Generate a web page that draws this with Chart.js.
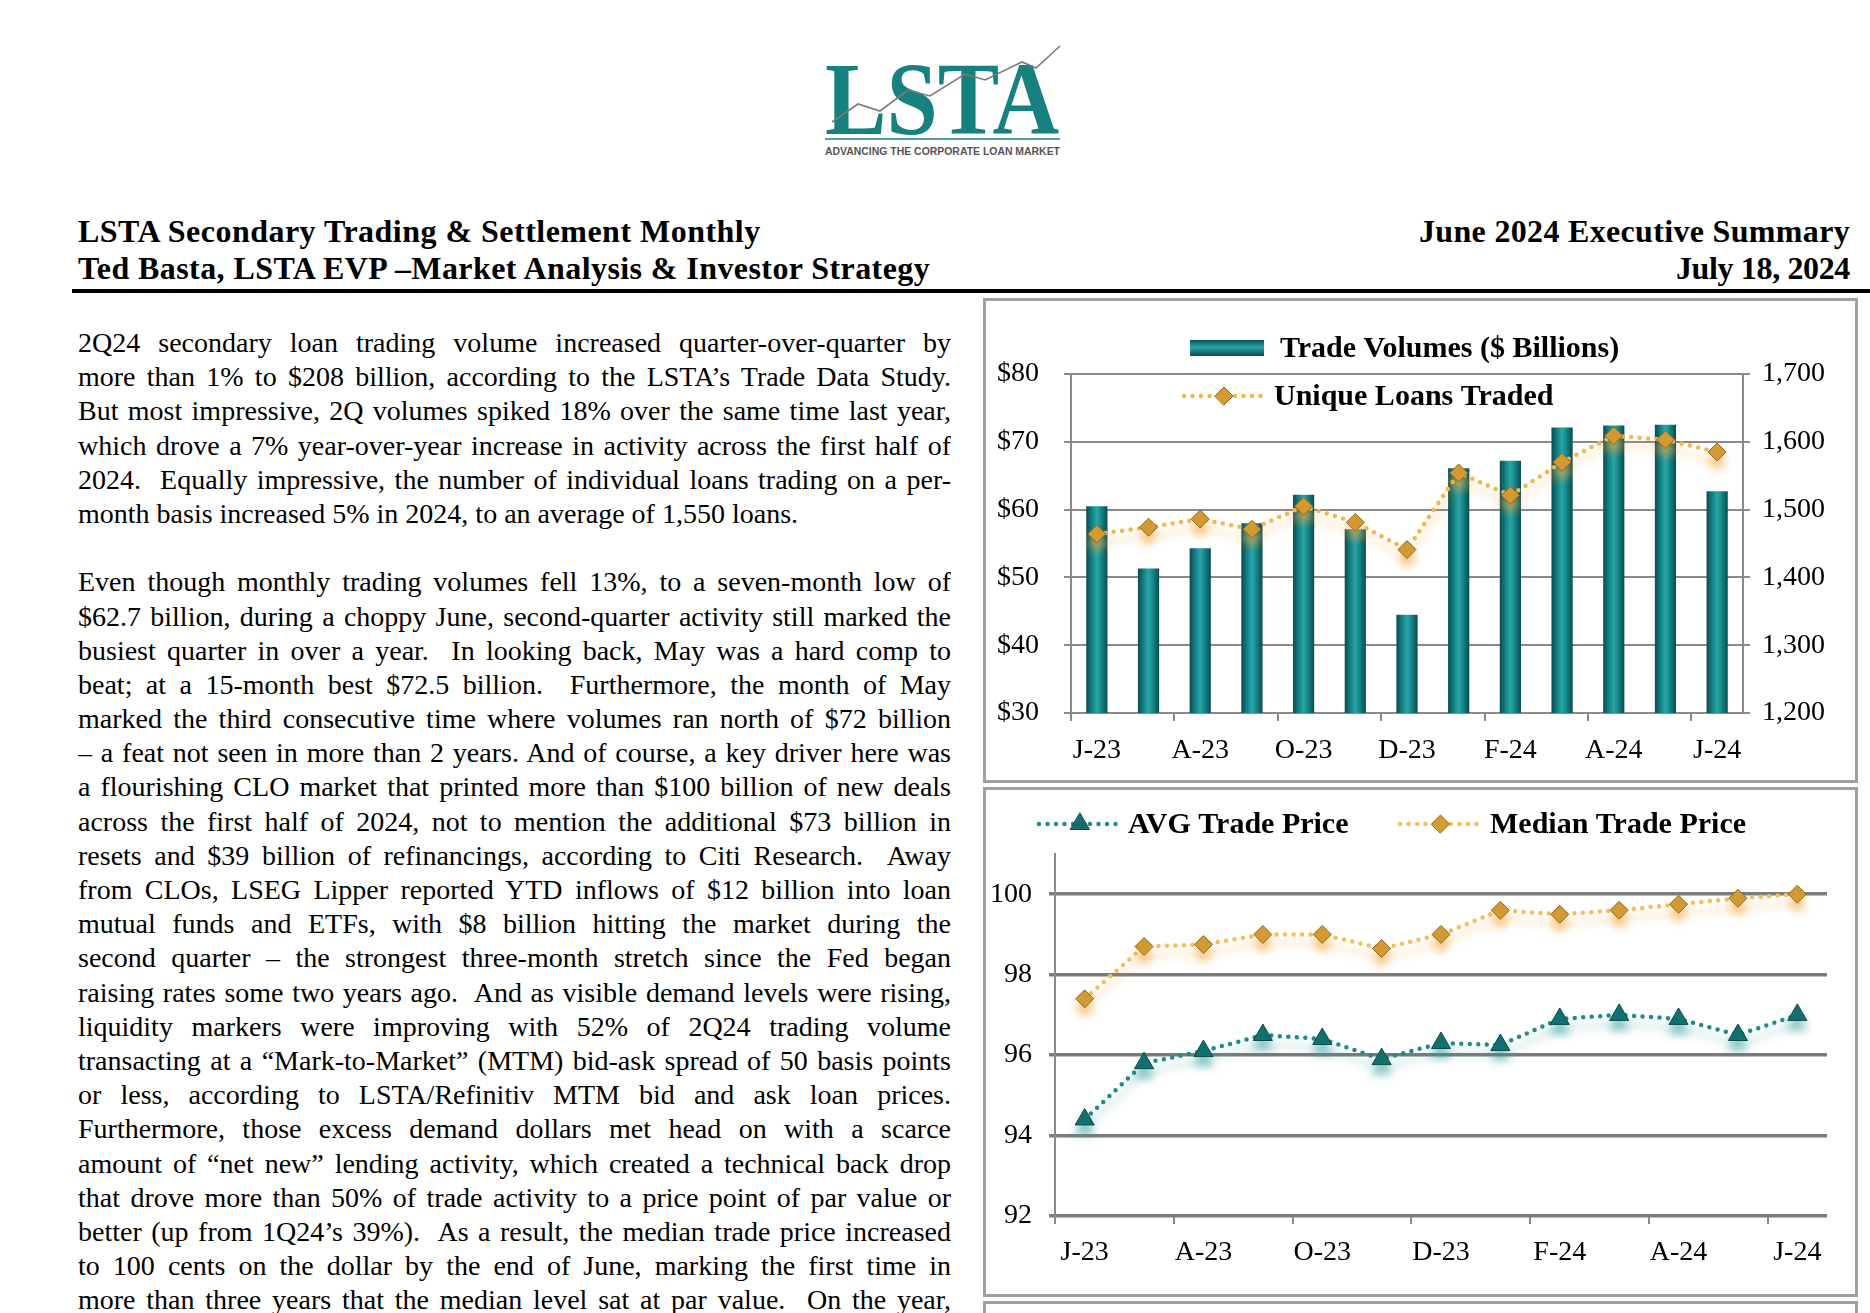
<!DOCTYPE html>
<html>
<head>
<meta charset="utf-8">
<title>LSTA Secondary Trading & Settlement Monthly</title>
<script src="https://cdn.jsdelivr.net/npm/chart.js@4.4.1/dist/chart.umd.min.js"></script>
<style>
html, body { margin: 0; padding: 0; background: #fff; }
body { width: 1870px; height: 1313px; position: relative; overflow: hidden;
       font-family: "Liberation Serif", "Times New Roman", serif; color: #000; }
.abs { position: absolute; }
.hdr { font-weight: bold; font-size: 32px; line-height: 36px; white-space: nowrap; }
.hdr.right { text-align: right; }
#copy { position: absolute; left: 78px; top: 326px; width: 873px; font-size: 28px; }
#copy .ln { height: 34.2px; line-height: 34.2px; text-align: justify; text-align-last: justify; overflow: hidden; }
#copy .ln.end { text-align-last: left; }
#copy .gap { height: 34.2px; }
.frame { position: absolute; box-sizing: border-box; border: 3px solid #a0a0a0; background: #fff; }
canvas { position: absolute; }
</style>
</head>
<body>

<!-- logo -->
<svg class="abs" style="left:0;top:0" width="1870" height="170">
  <text x="825" y="134" textLength="234" lengthAdjust="spacingAndGlyphs"
        font-family="Liberation Serif" font-weight="bold" font-size="104" fill="#17817f">LSTA</text>
  <polyline points="832,122 858,104 880,111 908,90 930,96 965,74 985,80 1022,62 1036,68 1060,46"
            fill="none" stroke="#7a7a7a" stroke-width="1.6"/>
  <line x1="825" y1="139" x2="1060" y2="139" stroke="#17817f" stroke-width="1.5"/>
  <text x="825" y="155" textLength="235" lengthAdjust="spacingAndGlyphs"
        font-family="Liberation Sans" font-weight="bold" font-size="10" fill="#555">ADVANCING THE CORPORATE LOAN MARKET</text>
</svg>

<!-- header -->
<div class="abs hdr" id="h1l" style="left:78px;top:213px;">LSTA Secondary Trading &amp; Settlement Monthly</div>
<div class="abs hdr" id="h2l" style="left:78px;top:250px;">Ted Basta, LSTA EVP –Market Analysis &amp; Investor Strategy</div>
<div class="abs hdr right" id="h1r" style="right:20px;top:213px;">June 2024 Executive Summary</div>
<div class="abs hdr right" id="h2r" style="right:20px;top:250px;">July 18, 2024</div>
<div class="abs" style="left:72px;top:289px;width:1798px;height:3.5px;background:#000;"></div>

<!-- body copy -->
<div id="copy">
  <div class="ln">2Q24 secondary loan trading volume increased quarter-over-quarter by</div>
  <div class="ln">more than 1% to $208 billion, according to the LSTA’s Trade Data Study.</div>
  <div class="ln">But most impressive, 2Q volumes spiked 18% over the same time last year,</div>
  <div class="ln">which drove a 7% year-over-year increase in activity across the first half of</div>
  <div class="ln">2024.&nbsp; Equally impressive, the number of individual loans trading on a per-</div>
  <div class="ln end">month basis increased 5% in 2024, to an average of 1,550 loans.</div>
  <div class="gap"></div>
  <div class="ln">Even though monthly trading volumes fell 13%, to a seven-month low of</div>
  <div class="ln">$62.7 billion, during a choppy June, second-quarter activity still marked the</div>
  <div class="ln">busiest quarter in over a year.&nbsp; In looking back, May was a hard comp to</div>
  <div class="ln">beat; at a 15-month best $72.5 billion.&nbsp; Furthermore, the month of May</div>
  <div class="ln">marked the third consecutive time where volumes ran north of $72 billion</div>
  <div class="ln">– a feat not seen in more than 2 years. And of course, a key driver here was</div>
  <div class="ln">a flourishing CLO market that printed more than $100 billion of new deals</div>
  <div class="ln">across the first half of 2024, not to mention the additional $73 billion in</div>
  <div class="ln">resets and $39 billion of refinancings, according to Citi Research.&nbsp; Away</div>
  <div class="ln">from CLOs, LSEG Lipper reported YTD inflows of $12 billion into loan</div>
  <div class="ln">mutual funds and ETFs, with $8 billion hitting the market during the</div>
  <div class="ln">second quarter – the strongest three-month stretch since the Fed began</div>
  <div class="ln">raising rates some two years ago.&nbsp; And as visible demand levels were rising,</div>
  <div class="ln">liquidity markers were improving with 52% of 2Q24 trading volume</div>
  <div class="ln">transacting at a “Mark-to-Market” (MTM) bid-ask spread of 50 basis points</div>
  <div class="ln">or less, according to LSTA/Refinitiv MTM bid and ask loan prices.</div>
  <div class="ln">Furthermore, those excess demand dollars met head on with a scarce</div>
  <div class="ln">amount of “net new” lending activity, which created a technical back drop</div>
  <div class="ln">that drove more than 50% of trade activity to a price point of par value or</div>
  <div class="ln">better (up from 1Q24’s 39%).&nbsp; As a result, the median trade price increased</div>
  <div class="ln">to 100 cents on the dollar by the end of June, marking the first time in</div>
  <div class="ln">more than three years that the median level sat at par value.&nbsp; On the year,</div>
</div>

<!-- chart frames -->
<div class="frame" style="left:983px;top:298px;width:875px;height:485px;"></div>
<div class="frame" style="left:983px;top:787px;width:875px;height:510px;"></div>
<div class="frame" style="left:983px;top:1301px;width:875px;height:40px;"></div>
<canvas id="volumeChart" width="869" height="479" style="left:986px;top:301px;"></canvas>
<canvas id="priceChart" width="869" height="504" style="left:986px;top:790px;"></canvas>

<script>
// Data (Jun-23 .. Jun-24)
const months = ['J-23', 'J-23', 'A-23', 'S-23', 'O-23', 'N-23', 'D-23', 'J-24', 'F-24', 'M-24', 'A-24', 'M-24', 'J-24'];
const tradeVolumes = [60.5, 51.3, 54.3, 58.0, 62.2, 57.1, 44.5, 66.1, 67.2, 72.1, 72.4, 72.5, 62.7];
const uniqueLoans = [1464, 1474, 1486, 1471, 1505, 1481, 1441, 1554, 1521, 1570, 1609, 1603, 1585];
const avgTradePrice = [94.4, 95.8, 96.1, 96.5, 96.4, 95.9, 96.3, 96.25, 96.9, 97.0, 96.9, 96.5, 97.0];
const medianTradePrice = [97.4, 98.7, 98.75, 99.0, 99.0, 98.65, 99.0, 99.6, 99.5, 99.6, 99.75, 99.9, 100.0];
const volumeTicks = [30, 40, 50, 60, 70, 80];
const loanTicks = [1200, 1300, 1400, 1500, 1600, 1700];
const priceTicks = [92, 94, 96, 98, 100];

// Fit text lines so they never wrap
const measureCtx = document.createElement('canvas').getContext('2d');
function fitLine(el, target, stretch) {
    const cs = getComputedStyle(el);
    measureCtx.font = cs.fontWeight + ' ' + cs.fontSize + ' ' + cs.fontFamily;
    const txt = el.textContent;
    const w = measureCtx.measureText(txt).width;
    if (stretch || w > target - 3) {
        el.style.letterSpacing = ((target - 3 - w) / txt.length) + 'px';
    }
}
document.querySelectorAll('#copy .ln').forEach(el => fitLine(el, 873, false));
fitLine(document.getElementById('h1l'), 688, true);
fitLine(document.getElementById('h2l'), 861, true);
fitLine(document.getElementById('h1r'), 434, true);
fitLine(document.getElementById('h2r'), 177, true);

Chart.defaults.font.family = '"Liberation Serif", "Times New Roman", serif';
Chart.defaults.color = '#000';

// only every other category boundary gets a tick mark
function everyOther(ctx) {
    return (ctx.index % 2 === 0 && ctx.index < months.length) ? '#8a8a8a' : 'rgba(0,0,0,0)';
}

// cylinder-like teal fill for each bar
function barFill(ctx) {
    const chart = ctx.chart;
    const x = chart.scales && chart.scales.x;
    if (!x || ctx.dataIndex === undefined || !chart.chartArea) return '#17807f';
    const cx = x.getPixelForValue(ctx.dataIndex);
    const half = x.width / months.length * 0.41 / 2;
    const g = chart.ctx.createLinearGradient(cx - half, 0, cx + half, 0);
    g.addColorStop(0, '#0a4b4f');
    g.addColorStop(0.3, '#15878a');
    g.addColorStop(0.5, '#2aa6a8');
    g.addColorStop(0.7, '#15878a');
    g.addColorStop(1, '#0a4b4f');
    return g;
}

// soft reflection under the marker lines
const glowPlugin = {
    id: 'glow',
    beforeDatasetDraw(chart, args) {
        const ds = chart.data.datasets[args.index];
        if (!ds.glow) return;
        const c = chart.ctx;
        c.save();
        c.shadowColor = ds.glow;
        c.shadowBlur = 9;
        c.shadowOffsetY = 9;
    },
    afterDatasetDraw(chart, args) {
        if (chart.data.datasets[args.index].glow) chart.ctx.restore();
    }
};

// legend drawn at fixed spots inside the frame
const boxLegend = {
    id: 'boxLegend',
    afterDraw(chart, args, opts) {
        const c = chart.ctx;
        c.save();
        chart.data.datasets.forEach((ds, i) => {
            const it = opts.items[i];
            if (!it) return;
            if (ds.type === 'bar') {
                const g = c.createLinearGradient(0, it.y - 8, 0, it.y + 8);
                g.addColorStop(0, '#0a4b4f');
                g.addColorStop(0.45, '#2aa6a8');
                g.addColorStop(1, '#0a4b4f');
                c.fillStyle = g;
                c.fillRect(it.x0, it.y - 8, it.x1 - it.x0, 16);
            } else {
                c.strokeStyle = ds.borderColor;
                c.lineWidth = ds.borderWidth;
                c.lineCap = 'round';
                c.setLineDash(ds.borderDash);
                c.beginPath();
                c.moveTo(it.x0, it.y);
                c.lineTo(it.x1, it.y);
                c.stroke();
                c.setLineDash([]);
                c.fillStyle = ds.pointBackgroundColor;
                c.strokeStyle = ds.pointBorderColor;
                c.lineWidth = 1;
                Chart.helpers.drawPoint(c, { pointStyle: ds.pointStyle, radius: ds.pointRadius, rotation: 0, borderWidth: 1 },
                    (it.x0 + it.x1) / 2, it.y);
            }
            c.fillStyle = '#000';
            c.font = 'bold 30px "Liberation Serif", serif';
            c.textBaseline = 'middle';
            c.textAlign = 'left';
            c.fillText(ds.label, it.tx, it.y + 1);
        });
        c.restore();
    }
};

// Trade volumes and unique loans
new Chart(document.getElementById('volumeChart'), {
    type: 'bar',
    data: {
        labels: months,
        datasets: [
            {
                type: 'bar',
                label: 'Trade Volumes ($ Billions)',
                data: tradeVolumes,
                yAxisID: 'y',
                backgroundColor: barFill,
                barPercentage: 0.41,
                categoryPercentage: 1,
                order: 2
            },
            {
                type: 'line',
                label: 'Unique Loans Traded',
                data: uniqueLoans,
                yAxisID: 'y1',
                borderColor: '#f7b54a',
                borderWidth: 4.5,
                borderDash: [0, 8.5],
                borderCapStyle: 'round',
                pointStyle: 'rectRot',
                pointRadius: 9,
                pointBackgroundColor: '#d29a33',
                pointBorderColor: '#94661a',
                pointBorderWidth: 1,
                tension: 0,
                order: 1,
                glow: 'rgba(245,165,60,0.6)'
            }
        ]
    },
    options: {
        responsive: false,
        animation: false,
        layout: { padding: { top: 73, left: 0, right: 0, bottom: 0 } },
        plugins: {
            legend: { display: false },
            tooltip: { enabled: false },
            boxLegend: {
                items: [
                    { x0: 204, x1: 278, y: 47, tx: 294 },
                    { x0: 198, x1: 278, y: 95, tx: 288 }
                ]
            }
        },
        scales: {
            x: {
                offset: true,
                grid: { offset: true, drawOnChartArea: false, color: everyOther, tickLength: 8, lineWidth: 2 },
                border: { display: false },
                ticks: {
                    autoSkip: false, maxRotation: 0, padding: 13,
                    font: { size: 28 },
                    callback: (v, i) => (i % 2 === 0 ? months[i] : '')
                },
                afterFit: s => { s.height = 67; }
            },
            y: {
                position: 'left',
                min: volumeTicks[0],
                max: volumeTicks[volumeTicks.length - 1],
                afterBuildTicks: s => { s.ticks = volumeTicks.map(v => ({ value: v })); },
                ticks: { padding: 25, font: { size: 28 }, callback: v => '$' + v },
                grid: { color: '#8a8a8a', lineWidth: 2, tickLength: 7 },
                border: { color: '#8a8a8a', width: 2 },
                afterFit: s => { s.width = 85; }
            },
            y1: {
                position: 'right',
                min: loanTicks[0],
                max: loanTicks[loanTicks.length - 1],
                afterBuildTicks: s => { s.ticks = loanTicks.map(v => ({ value: v })); },
                ticks: { padding: 12, font: { size: 28 }, callback: v => v.toLocaleString('en-US') },
                grid: { drawOnChartArea: false, color: '#8a8a8a', lineWidth: 2, tickLength: 7 },
                border: { color: '#8a8a8a', width: 2 },
                afterFit: s => { s.width = 112; }
            }
        }
    },
    plugins: [glowPlugin, boxLegend]
});

// Average and median trade price
new Chart(document.getElementById('priceChart'), {
    type: 'line',
    data: {
        labels: months,
        datasets: [
            {
                type: 'line',
                label: 'AVG Trade Price',
                data: avgTradePrice,
                borderColor: '#1e8c89',
                borderWidth: 4.5,
                borderDash: [0, 8.5],
                borderCapStyle: 'round',
                pointStyle: 'triangle',
                pointRadius: 11,
                pointBackgroundColor: '#146e6e',
                pointBorderColor: '#0b4b4b',
                pointBorderWidth: 1,
                tension: 0,
                glow: 'rgba(40,150,150,0.55)'
            },
            {
                type: 'line',
                label: 'Median Trade Price',
                data: medianTradePrice,
                borderColor: '#f8bd56',
                borderWidth: 4.5,
                borderDash: [0, 8.5],
                borderCapStyle: 'round',
                pointStyle: 'rectRot',
                pointRadius: 9,
                pointBackgroundColor: '#d29a33',
                pointBorderColor: '#94661a',
                pointBorderWidth: 1,
                tension: 0,
                glow: 'rgba(245,165,60,0.6)'
            }
        ]
    },
    options: {
        responsive: false,
        animation: false,
        layout: { padding: { top: 64, left: 0, right: 28, bottom: 0 } },
        plugins: {
            legend: { display: false },
            tooltip: { enabled: false },
            boxLegend: {
                items: [
                    { x0: 53, x1: 135, y: 34, tx: 142 },
                    { x0: 414, x1: 495, y: 34, tx: 504 }
                ]
            }
        },
        scales: {
            x: {
                offset: true,
                grid: { offset: true, drawOnChartArea: false, color: everyOther, tickLength: 8, lineWidth: 2 },
                border: { display: false },
                ticks: {
                    autoSkip: false, maxRotation: 0, padding: 12,
                    font: { size: 28 },
                    callback: (v, i) => (i % 2 === 0 ? months[i] : '')
                },
                afterFit: s => { s.height = 78; }
            },
            y: {
                min: 92,
                max: 101,
                afterBuildTicks: s => { s.ticks = priceTicks.map(v => ({ value: v })); },
                ticks: { padding: 17, font: { size: 28 } },
                grid: { color: '#7c7c7c', lineWidth: 3.5, tickLength: 6 },
                border: { color: '#8a8a8a', width: 2 },
                afterFit: s => { s.width = 69; }
            }
        }
    },
    plugins: [glowPlugin, boxLegend]
});
</script>
</body>
</html>
